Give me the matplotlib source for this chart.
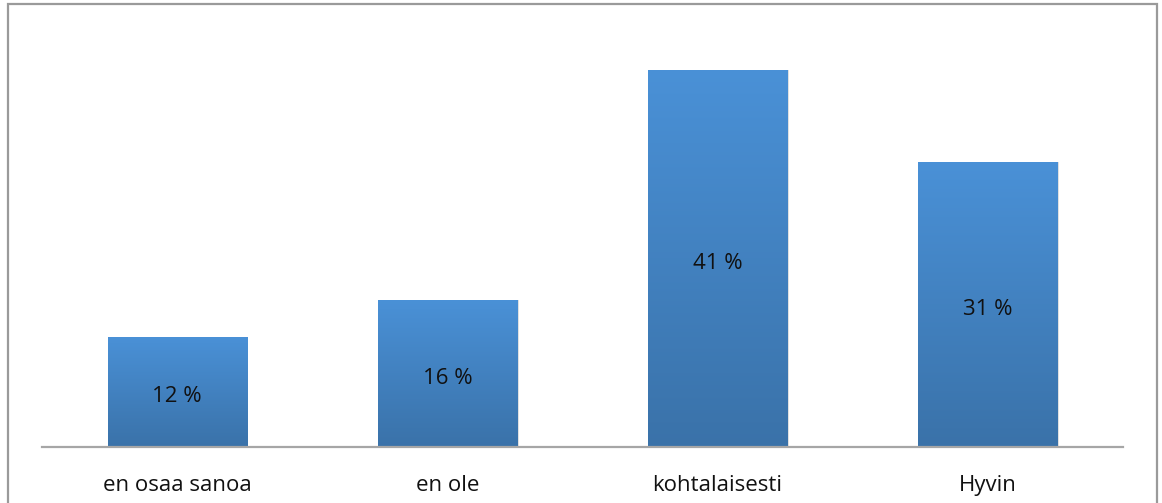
import numpy as np
import matplotlib.pyplot as plt
from matplotlib.patches import Rectangle
from matplotlib.colors import LinearSegmentedColormap

categories = ['en osaa sanoa', 'en ole', 'kohtalaisesti', 'Hyvin']
values = [12, 16, 41, 31]
labels = ['12 %', '16 %', '41 %', '31 %']

plt.rcParams['font.family'] = ['Open Sans', 'DejaVu Sans']

W, H = 1162, 503
fig = plt.figure(figsize=(W / 100, H / 100), dpi=100)
ax = fig.add_axes([42 / W, 1 - 447 / H, (1123 - 42) / W, 414 / H])

# outer chart border
fig.patches.append(Rectangle((8 / W, -0.1), (1157 - 8) / W, 1.1 - 4 / H,
                             transform=fig.transFigure, fill=False,
                             edgecolor='#9a9a9a', linewidth=1.6))

cmap = LinearSegmentedColormap.from_list('bl', ['#3a72a9', '#4a91d7'])
grad = np.linspace(0, 1, 256).reshape(-1, 1)

x = np.arange(len(categories))
bars = ax.bar(x, values, width=0.515, color='none', edgecolor='none')
for b, lab in zip(bars, labels):
    bx, bw, bh = b.get_x(), b.get_width(), b.get_height()
    # soft shadow
    ax.add_patch(Rectangle((bx + 0.006, -0.3), bw, bh + 0.3, color='#000000',
                           alpha=0.12, zorder=1, linewidth=0))
    im = ax.imshow(grad, extent=[bx, bx + bw, 0, bh], origin='lower',
                   cmap=cmap, aspect='auto', zorder=2)
    im.set_clip_path(b)
    ax.text(bx + bw / 2, bh / 2 - 0.55, lab, ha='center', va='center',
            fontsize=16, color='#111111', zorder=3)

ax.set_xlim(-0.5, 3.5)
ax.set_ylim(0, 45)
for s in ['top', 'right', 'left']:
    ax.spines[s].set_visible(False)
ax.spines['bottom'].set_color('#a6a6a6')
ax.spines['bottom'].set_linewidth(1.6)
ax.spines['bottom'].set_zorder(4)
ax.set_yticks([])
ax.set_xticks(x)
ax.set_xticklabels(categories, fontsize=16, color='#111111')
ax.tick_params(axis='x', length=0, pad=20)

fig.savefig('out.png', dpi=100)
